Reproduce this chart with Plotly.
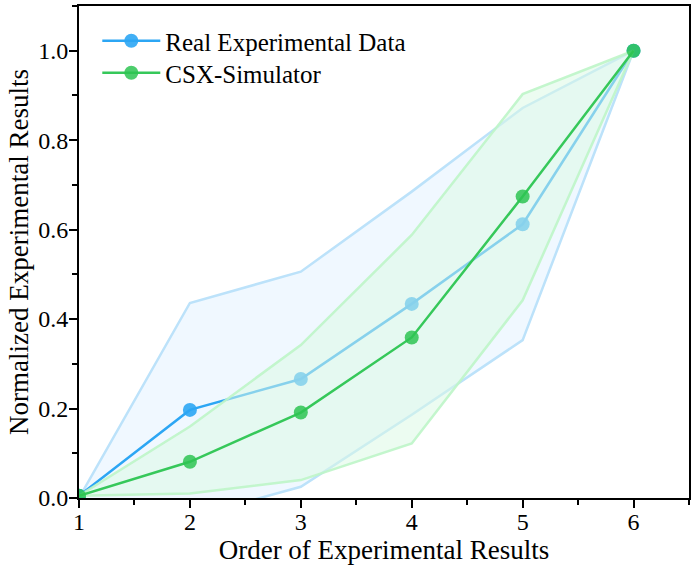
"""Real experimental data vs CSX-Simulator, normalized results with bands."""

import plotly.graph_objects as go

order = [1, 2, 3, 4, 5, 6]

real_mean = [0.005, 0.197, 0.266, 0.434, 0.612, 1.0]
real_upper = [0.0, 0.436, 0.506, 0.685, 0.872, 1.0]
real_lower = [0.0, -0.043, 0.025, 0.186, 0.353, 1.0]

sim_mean = [0.005, 0.081, 0.191, 0.359, 0.674, 1.0]
sim_upper = [0.005, 0.160, 0.342, 0.588, 0.903, 1.0]
sim_lower = [0.005, 0.010, 0.040, 0.122, 0.442, 1.0]

FONT = "Liberation Serif, Times New Roman, serif"


def band(x, upper, lower, line_color, fill_color):
    return go.Scatter(
        x=list(x) + list(x)[::-1],
        y=list(upper) + list(lower)[::-1],
        mode="lines",
        fill="toself",
        fillcolor=fill_color,
        line=dict(color=line_color, width=2.5),
        hoverinfo="skip",
        showlegend=False,
    )


fig = go.Figure()
fig.add_trace(band(order, real_upper, real_lower, "#BCE2FA", "rgba(240,248,255,1)"))
fig.add_trace(
    go.Scatter(
        x=order,
        y=real_mean,
        mode="lines+markers",
        name="Real Experimental Data",
        line=dict(color="#2CA6F4", width=2.5),
        marker=dict(size=14, color="#2CA6F4", opacity=0.9),
        legend="legend",
    )
)
fig.add_trace(band(order, sim_upper, sim_lower, "rgba(190,245,200,0.9)", "rgba(218,249,228,0.52)"))
fig.add_trace(
    go.Scatter(
        x=order,
        y=sim_mean,
        mode="lines+markers",
        name="CSX-Simulator",
        line=dict(color="#36C85A", width=2.5),
        marker=dict(size=14, color="#2EC452", opacity=0.85),
        legend="legend2",
    )
)

axis_common = dict(
    showline=True,
    linecolor="black",
    linewidth=2,
    mirror=True,
    showgrid=False,
    zeroline=False,
    automargin=False,
    ticks="outside",
    ticklen=8,
    tickwidth=2,
    tickcolor="black",
    tickfont=dict(family=FONT, size=24, color="black"),
)

fig.update_xaxes(
    range=[1, 6.5],
    tickvals=order,
    ticklabelstandoff=-7,
    minor=dict(dtick=0.5, tick0=1, ticks="outside", ticklen=5, tickwidth=2, tickcolor="black"),
    title=dict(text="Order of Experimental Results", font=dict(family=FONT, size=27, color="black"), standoff=4),
    **axis_common,
)
fig.update_yaxes(
    range=[0, 1.1],
    dtick=0.2,
    tickformat=".1f",
    ticklabelstandoff=-4,
    minor=dict(dtick=0.1, tick0=0, ticks="outside", ticklen=5, tickwidth=2, tickcolor="black"),
    title=dict(text="Normalized Experimental Results", font=dict(family=FONT, size=27, color="black"), standoff=2),
    **axis_common,
)

legend_common = dict(
    x=0.03,
    xanchor="left",
    yanchor="middle",
    bgcolor="rgba(0,0,0,0)",
    font=dict(family=FONT, size=25, color="black"),
    itemwidth=58,
)

fig.update_layout(
    width=692,
    height=565,
    margin=dict(l=79, r=3, t=6, b=67),
    plot_bgcolor="white",
    paper_bgcolor="white",
    font=dict(family=FONT, color="black"),
    legend=dict(y=(498 - 41) / 492, **legend_common),
    legend2=dict(y=(498 - 73) / 492, **legend_common),
)

# the page body has a default 8px margin; drop it so the figure sits at 0,0
fig.write_html(
    "out.html",
    config={"displayModeBar": False},
    post_script="document.body.style.margin = '0';",
)
